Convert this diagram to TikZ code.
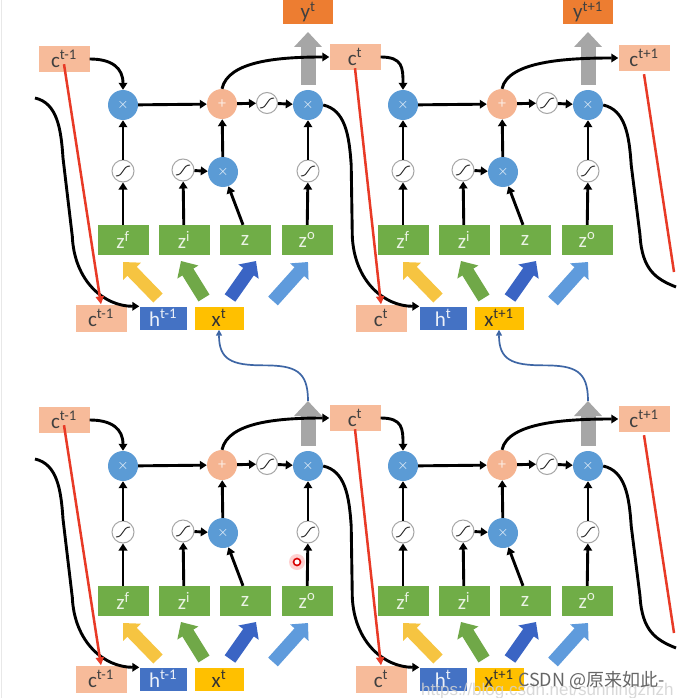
\documentclass[tikz,border=0pt]{standalone}
\usepackage{fontspec}
\setmainfont{Carlito}
\newfontfamily\cjk{Noto Sans CJK SC}
\newfontfamily\wmsans{Liberation Sans}
\usetikzlibrary{arrows.meta,calc}
\definecolor{cfill}{RGB}{247,187,154}
\definecolor{yorange}{RGB}{237,125,49}
\definecolor{zgreen}{RGB}{112,173,71}
\definecolor{mulblue}{RGB}{91,155,213}
\definecolor{plusfill}{RGB}{245,180,145}
\definecolor{hblue}{RGB}{68,114,196}
\definecolor{xyellow}{RGB}{255,192,0}
\definecolor{ayellow}{RGB}{246,196,65}
\definecolor{agreen}{RGB}{112,168,72}
\definecolor{adblue}{RGB}{58,100,196}
\definecolor{alblue}{RGB}{95,155,220}
\definecolor{garrow}{RGB}{166,166,166}
\definecolor{redc}{RGB}{232,58,38}
\definecolor{thinblue}{RGB}{62,102,165}
\tikzset{
  blk/.style={line width=2.9pt, draw=black, -{Triangle[length=7pt,width=8.5pt]}},
  blkline/.style={line width=2.9pt, draw=black},
  mul/.style={circle, fill=mulblue, minimum size=30pt, inner sep=0pt, text=white, font=\fontsize{15}{15}\selectfont},
  plusn/.style={circle, fill=plusfill, minimum size=30pt, inner sep=0pt, text=white!75!plusfill, font=\fontsize{16}{16}\selectfont},
  sig/.style={circle, draw=gray!70, fill=white, line width=1pt, minimum size=22pt, inner sep=0pt,
    path picture={\draw[line width=1pt, black!80]
      ([shift={(-7,5)}]path picture bounding box.center) .. controls +(8,0) and +(-8,0) ..
      ([shift={(7,-5)}]path picture bounding box.center);}},
  boxfont/.style={font=\fontsize{21}{21}\selectfont},
  zbox/.style={rectangle, fill=zgreen, minimum width=51pt, minimum height=30pt, inner sep=0pt, text=white!85!zgreen, boxfont},
  cbox/.style={rectangle, fill=cfill, minimum width=51pt, minimum height=26pt, inner sep=0pt, text=black!75, boxfont},
  cbbox/.style={rectangle, fill=cfill, minimum width=51pt, minimum height=27pt, inner sep=0pt, text=black!75, boxfont},
  hbox/.style={rectangle, fill=hblue, minimum width=47pt, minimum height=23pt, inner sep=0pt, text=white!90!hblue, boxfont},
  xbox/.style={rectangle, fill=xyellow, minimum width=49pt, minimum height=23pt, inner sep=0pt, text=black!80, boxfont},
  ybox/.style={rectangle, fill=yorange, minimum width=50pt, minimum height=25pt, inner sep=0pt, text=black!75, boxfont},
  fat/.style={line width=13pt, -{Triangle[length=13pt,width=24pt]}},
  gfat/.style={line width=15pt, draw=garrow, -{Triangle[length=15pt,width=27pt]}},
  redl/.style={line width=2.5pt, draw=redc, -{Triangle[length=8pt,width=8pt]}},
  bluel/.style={line width=1.7pt, draw=thinblue, -{Triangle[length=6pt,width=6pt]}},
}
\newcommand\lstmcell[6]{%
\begin{scope}[shift={(#1,#2)}]
  \node[mul] (#3fx) at (123,105) {$\times$};
  \node[plusn] (#3pl) at (222,104) {+};
  \node[sig, minimum size=21pt] (#3sc) at (267,103) {};
  \node[mul] (#3ox) at (308,105) {$\times$};
  \node[sig] (#3sf) at (123,171) {};
  \node[sig] (#3si) at (183,170) {};
  \node[mul] (#3ix) at (223,172) {$\times$};
  \node[sig] (#3so) at (308,171) {};
  \node[zbox] (#3zf) at (123,240) {z\textsuperscript{f}};
  \node[zbox] (#3zi) at (184,240) {z\textsuperscript{i}};
  \node[zbox] (#3z) at (245,240) {z};
  \node[zbox] (#3zo) at (307,240) {z\textsuperscript{o}};
  \node[cbbox] (#3cb) at (101,318) {#4};
  \node[hbox] (#3hb) at (163,318) {#5};
  \node[xbox] (#3xb) at (219,318) {#6};
  \draw[blk] (#3zf) -- (#3sf);
  \draw[blk] (#3sf) -- (#3fx);
  \draw[blk] (#3zi) -- (#3si);
  \draw[blk] (#3si) -- (#3ix);
  \draw[blk] ([xshift=-2pt]#3z.north) -- (#3ix);
  \draw[blk] (#3ix) -- (#3pl);
  \draw[blk] (#3fx) -- (#3pl);
  \draw[blk] (#3pl) -- (#3sc);
  \draw[blk] (#3sc) -- (#3ox);
  \draw[blk] (#3zo) -- (#3so);
  \draw[blk] (#3so) -- (#3ox);
  \coordinate (#3ya) at (158,298); \coordinate (#3yb) at (123,262);
  \coordinate (#3ga) at (204,298); \coordinate (#3gb) at (181,261);
  \coordinate (#3da) at (230,298); \coordinate (#3db) at (256,261);
  \coordinate (#3la) at (273,301); \coordinate (#3lb) at (308,262);
  \draw[fat, draw=ayellow] (#3ya) -- (#3yb);
  \draw[fat, draw=agreen] (#3ga) -- (#3gb);
  \draw[fat, draw=adblue] (#3da) -- (#3db);
  \draw[fat, draw=alblue] (#3la) -- (#3lb);
\end{scope}}
\begin{document}
\begin{tikzpicture}[x=1pt,y=-1pt]
\useasboundingbox (0,0) rectangle (690,698);
\fill[white] (0,0) rectangle (690,698);
\draw[gray!18, line width=1.5pt] (1.5,0) -- (1.5,698);

% cells
\lstmcell{0}{0}{ta}{c\textsuperscript{t-1}}{h\textsuperscript{t-1}}{x\textsuperscript{t}}
\lstmcell{280}{0}{tb}{c\textsuperscript{t}}{h\textsuperscript{t}}{x\textsuperscript{t+1}}
\lstmcell{0}{361}{ba}{c\textsuperscript{t-1}}{h\textsuperscript{t-1}}{x\textsuperscript{t}}
\lstmcell{280}{361}{bb}{c\textsuperscript{t}}{h\textsuperscript{t}}{x\textsuperscript{t+1}}

% memory boxes
\node[cbox] (ct0) at (64,59) {c\textsuperscript{t-1}};
\node[cbox] (ct1) at (355,57) {c\textsuperscript{t}};
\node[cbox] (ct2) at (644,58) {c\textsuperscript{t+1}};
\node[cbox] (cb0) at (64,420) {c\textsuperscript{t-1}};
\node[cbox] (cb1) at (355,418) {c\textsuperscript{t}};
\node[cbox] (cb2) at (644,419) {c\textsuperscript{t+1}};
\node[ybox] (y1) at (308,12) {y\textsuperscript{t}};
\node[ybox] (y2) at (588,12) {y\textsuperscript{t+1}};

% output (gray) arrows
\coordinate (gta) at (308,32);
\coordinate (gtb) at (588,32);
\coordinate (gba) at (308,401);
\coordinate (gbb) at (588,401);
\draw[gfat] ([yshift=5pt]taox.north) -- (gta);
\draw[gfat] ([yshift=5pt]tbox.north) -- (gtb);
\draw[gfat] ([yshift=5pt]baox.north) -- (gba);
\draw[gfat] ([yshift=5pt]bbox.north) -- (gbb);

% c inputs to forget multipliers
\draw[blk] (ct0.east) .. controls +(22,0) and +(0,-22) .. (tafx.north);
\draw[blk] (ct1.east) .. controls +(22,0) and +(0,-22) .. (tbfx.north);
\draw[blk] (cb0.east) .. controls +(22,0) and +(0,-22) .. (bafx.north);
\draw[blk] (cb1.east) .. controls +(22,0) and +(0,-22) .. (bbfx.north);

% plus to next c
\draw[blk] (tapl.north) .. controls +(6,-28) and +(-50,0) .. (ct1.west);
\draw[blk] (tbpl.north) .. controls +(6,-28) and +(-50,0) .. (ct2.west);
\draw[blk] (bapl.north) .. controls +(6,-28) and +(-50,0) .. (cb1.west);
\draw[blk] (bbpl.north) .. controls +(6,-28) and +(-50,0) .. (cb2.west);

% h curves, top row
\coordinate (hsa) at (35,98);
\draw[blk] (hsa) .. controls +(22,5) and +(-2,-30) .. ($(hsa)+(28,60)$)
  -- ($(tahb.north west)+(-67,-70)$) .. controls +(2,45) and +(-35,0) .. (tahb.north west);
\draw[blk] (taox.east) .. controls +(22,5) and +(-2,-30) .. ($(taox.east)+(28,60)$)
  -- ($(tbhb.north west)+(-67,-70)$) .. controls +(2,45) and +(-35,0) .. (tbhb.north west);
\coordinate (hea) at (676,287);
\draw[blkline] (tbox.east) .. controls +(22,5) and +(-2,-30) .. ($(tbox.east)+(28,60)$)
  -- ($(hea)+(-36,-52)$) .. controls +(2,35) and +(-20,-8) .. (hea);
% h curves, bottom row
\coordinate (hsb) at (35,459);
\draw[blk] (hsb) .. controls +(22,5) and +(-2,-30) .. ($(hsb)+(28,60)$)
  -- ($(bahb.north west)+(-67,-70)$) .. controls +(2,45) and +(-35,0) .. (bahb.north west);
\draw[blk] (baox.east) .. controls +(22,5) and +(-2,-30) .. ($(baox.east)+(28,60)$)
  -- ($(bbhb.north west)+(-67,-70)$) .. controls +(2,45) and +(-35,0) .. (bbhb.north west);
\coordinate (heb) at (676,648);
\draw[blkline] (bbox.east) .. controls +(22,5) and +(-2,-30) .. ($(bbox.east)+(28,60)$)
  -- ($(heb)+(-36,-52)$) .. controls +(2,35) and +(-20,-8) .. (heb);

% red memory lines
\draw[redl] ([yshift=8pt]ct0.south) -- (tacb.north);
\draw[redl] ([yshift=2pt]ct1.south) -- (tbcb.north);
\coordinate (rea) at (674,272);
\draw[line width=2.5pt, draw=redc] ([yshift=-3pt]ct2.south) -- (rea);
\draw[redl] ([yshift=8pt]cb0.south) -- (bacb.north);
\draw[redl] ([yshift=2pt]cb1.south) -- (bbcb.north);
\coordinate (reb) at (674,633);
\draw[line width=2.5pt, draw=redc] ([yshift=-3pt]cb2.south) -- (reb);

% blue feedback curves
\draw[bluel] (gba) .. controls +(0,-30) and +(32,0) .. ($(gba)!0.5!(taxb.south)$)
  .. controls +(-32,0) and +(0,30) .. (taxb.south);
\draw[bluel] (gbb) .. controls +(0,-30) and +(32,0) .. ($(gbb)!0.5!(tbxb.south)$)
  .. controls +(-32,0) and +(0,30) .. (tbxb.south);

% cursor mark
\fill[red!18] (297,562) circle (8);
\node[circle, draw=red!85!black, fill=white, line width=1.6pt, minimum size=7pt, inner sep=0pt] (cursor) at (297,562) {};

% watermark
\node[anchor=west, text=white!65!gray, opacity=0.85, font=\wmsans\fontsize{17}{17}\selectfont, inner sep=0pt] (url) at (421,691) {https://blog.csdn.net/sunningzhzh};
\node[anchor=west, text=black!60, font=\cjk\fontsize{18}{18}\selectfont, inner sep=0pt] (wm) at (518,680) {CSDN @原来如此-};
\end{tikzpicture}
\end{document}
